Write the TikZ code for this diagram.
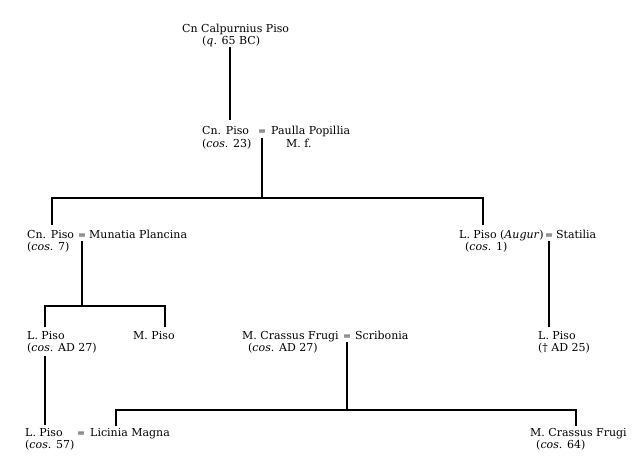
\documentclass[tikz,border=0pt]{standalone}
\usepackage{fontspec}
\setmainfont{DejaVu Serif}
\begin{document}
\begin{tikzpicture}[x=1pt, y=-1pt, font=\fontsize{11}{13}\selectfont,
    person/.style={anchor=base west, inner sep=0pt},
    eq/.style={anchor=base, inner sep=3pt, font=\fontsize{9.5}{12}\selectfont},
    line/.style={line width=2pt}]
    \useasboundingbox (0,0) rectangle (639,473);

    \node[person] at (182,33) (calp) {Cn Calpurnius Piso};
    \node[person] at (202,45) (calpq) {(\textit{q}. 65 BC)};

    \node[person] at (202,135) (cnpisoA) {Cn. Piso};
    \node[eq] at (262,135) (eqA) {=};
    \node[person] at (271,135) (paulla) {Paulla Popillia};
    \node[person] at (202,148) (cnpisoAcos) {(\textit{cos}. 23)};
    \node[person] at (286,148) (paullamf) {M. f.};

    \node[person] at (27,238) (cnpisoB) {Cn. Piso};
    \node[eq] at (82,238) (eqB) {=};
    \node[person] at (89,238) (munatia) {Munatia Plancina};
    \node[person] at (27,250) (cnpisoBcos) {(\textit{cos}. 7)};

    \node[person] at (459,238) (lpisoaug) {L. Piso (\textit{Augur})};
    \node[eq] at (549,238) (eqC) {=};
    \node[person] at (556,238) (statilia) {Statilia};
    \node[person] at (465,250) (lpisoaugcos) {(\textit{cos}. 1)};

    \node[person] at (27,339) (lpisoC) {L. Piso};
    \node[person] at (27,351) (lpisoCcos) {(\textit{cos}. AD 27)};
    \node[person] at (133,339) (mpiso) {M. Piso};
    \node[person] at (242,339) (crassusA) {M. Crassus Frugi};
    \node[eq] at (347,339) (eqD) {=};
    \node[person] at (355,339) (scribonia) {Scribonia};
    \node[person] at (248,351) (crassusAcos) {(\textit{cos}. AD 27)};
    \node[person] at (538,339) (lpisoD) {L. Piso};
    \node[person] at (538,351) (lpisoDcos) {(† AD 25)};

    \node[person] at (25,436) (lpisoE) {L. Piso};
    \node[eq] at (81,436) (eqE) {=};
    \node[person] at (90,436) (licinia) {Licinia Magna};
    \node[person] at (25,448) (lpisoEcos) {(\textit{cos}. 57)};
    \node[person] at (530,436) (crassusB) {M. Crassus Frugi};
    \node[person] at (536,448) (crassusBcos) {(\textit{cos}. 64)};

    \coordinate (dA) at (230,120);
    \coordinate (famA) at (262,198);
    \coordinate (dB) at (52,225);
    \coordinate (dC) at (483,225);
    \coordinate (famB) at (82,306);
    \coordinate (dD) at (45,327);
    \coordinate (dE) at (165,327);
    \coordinate (dF) at (549,327);
    \coordinate (famD) at (347,410);
    \coordinate (dG) at (116,426);
    \coordinate (dH) at (576,426);
    \coordinate (dI) at (45,425);

    \draw[line] (calpq.south -| dA) -- (dA);
    \draw[line] (eqA.south) -- (famA);
    \draw[line] (dB) |- (famA) -| (dC);
    \draw[line] (eqB.south) -- (famB);
    \draw[line] (dD) |- (famB) -| (dE);
    \draw[line] (eqC.south) -- (dF);
    \draw[line] (eqD.south) -- (famD);
    \draw[line] (dG) |- (famD) -| (dH);
    \draw[line] ([yshift=-3pt]lpisoCcos.south -| dI) -- (dI);
  \end{tikzpicture}
\end{document}
